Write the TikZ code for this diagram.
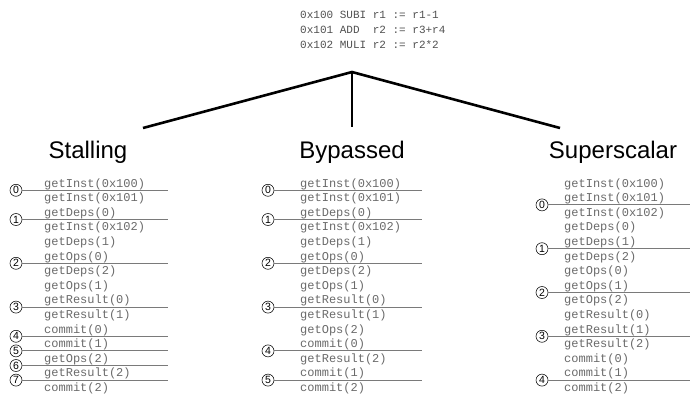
\documentclass[tikz,border=0pt]{standalone}
\usepackage{fontspec}
\setmainfont{Liberation Sans}
\newfontfamily\codefont{Liberation Mono}
\definecolor{codegray}{HTML}{505050}
\definecolor{opgray}{HTML}{6A6A6A}
\definecolor{linegray}{HTML}{7A7A7A}
\begin{document}
\begin{tikzpicture}[x=1pt,y=-1pt,
  code/.style={font=\codefont\fontsize{11}{13}\selectfont, text=codegray, anchor=base west, inner sep=0pt},
  op/.style={font=\codefont\fontsize{12}{14}\selectfont, text=opgray, anchor=base west, inner sep=0pt},
  title/.style={font=\fontsize{24}{28}\selectfont, inner sep=0pt, anchor=base},
  stage/.style={circle, draw=black, line width=0.55pt, inner sep=0pt, minimum size=12pt,
                font=\fontsize{10.5}{10.5}\selectfont},
  divider/.style={draw=linegray, line width=1pt},
  branch/.style={line width=2.6pt, black}]
\useasboundingbox (0,0) rectangle (700,413);

% instruction sequence
\node[code] (i0) at (300,18) {0x100 SUBI r1 := r1-1};
\node[code] (i1) at (300,33) {0x101 ADD\ \ r2 := r3+r4};
\node[code] (i2) at (300,48) {0x102 MULI r2 := r2*2};

% tree of the three pipeline variants
\coordinate (apex) at (352,72);
\coordinate (lend) at (143,128);
\coordinate (mend) at (352,127);
\coordinate (rend) at (560,128);
\draw[branch] (lend) -- (apex) -- (rend);
\draw[branch] (apex) -- (mend);

\node[title] (tstall) at (88,158) {Stalling};
\node[title] (tbypass) at (352,158) {Bypassed};
\node[title] (tsuper) at (613,158) {Superscalar};

% operation columns
\foreach \t [count=\i from 0] in {getInst(0x100),getInst(0x101),getDeps(0),getInst(0x102),
   getDeps(1),getOps(0),getDeps(2),getOps(1),getResult(0),getResult(1),commit(0),commit(1),
   getOps(2),getResult(2),commit(2)}
  \node[op] (s\i) at (44,187+14.6*\i) {\t};
\foreach \t [count=\i from 0] in {getInst(0x100),getInst(0x101),getDeps(0),getInst(0x102),
   getDeps(1),getOps(0),getDeps(2),getOps(1),getResult(0),getResult(1),getOps(2),commit(0),
   getResult(2),commit(1),commit(2)}
  \node[op] (b\i) at (300,187+14.6*\i) {\t};
\foreach \t [count=\i from 0] in {getInst(0x100),getInst(0x101),getInst(0x102),getDeps(0),
   getDeps(1),getDeps(2),getOps(0),getOps(1),getOps(2),getResult(0),getResult(1),getResult(2),
   commit(0),commit(1),commit(2)}
  \node[op] (p\i) at (564,187+14.6*\i) {\t};

% cycle boundaries: stage number and the row it follows
\foreach \k/\r in {0/0,1/2,2/5,3/8,4/10,5/11,6/12,7/13} {
  \node[stage] (sc\k) at (16,190.3+14.6*\r) {\k};
  \coordinate (se\k) at (168,190.3+14.6*\r);
  \draw[divider] (sc\k) -- (se\k);
}
\foreach \k/\r in {0/0,1/2,2/5,3/8,4/11,5/13} {
  \node[stage] (bc\k) at (268,190.3+14.6*\r) {\k};
  \coordinate (be\k) at (422,190.3+14.6*\r);
  \draw[divider] (bc\k) -- (be\k);
}
\foreach \k/\r in {0/1,1/4,2/7,3/10,4/13} {
  \node[stage] (pc\k) at (542,190.3+14.6*\r) {\k};
  \coordinate (pe\k) at (690,190.3+14.6*\r);
  \draw[divider] (pc\k) -- (pe\k);
}
\end{tikzpicture}
\end{document}
